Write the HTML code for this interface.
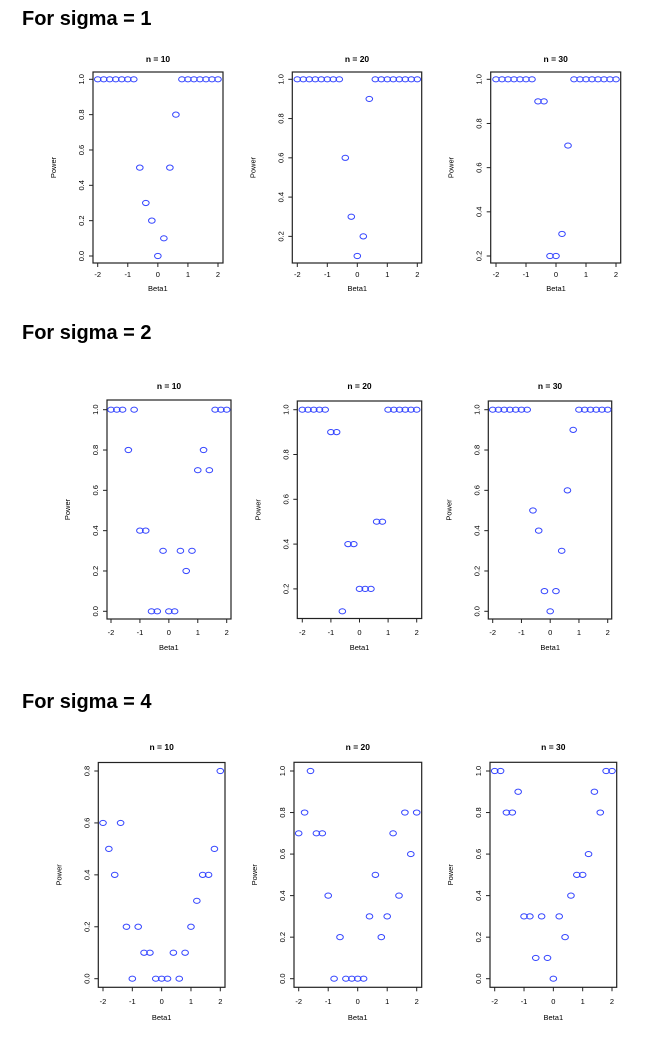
<!DOCTYPE html>
<html><head><meta charset="utf-8"><style>
body{margin:0;background:#fff;width:656px;height:1045px;overflow:hidden}
h2{position:absolute;left:22px;margin:0;font:bold 20px "Liberation Sans",sans-serif;color:#000}
svg{position:absolute;left:0;top:0}
</style></head><body>
<h2 style="top:8px">For sigma = 1</h2>
<h2 style="top:322px">For sigma = 2</h2>
<h2 style="top:691px">For sigma = 4</h2>
<svg id="chart" width="656" height="1045" xmlns="http://www.w3.org/2000/svg"></svg>
<script>
const beta = [-2,-1.8,-1.6,-1.4,-1.2,-1,-0.8,-0.6,-0.4,-0.2,0,0.2,0.4,0.6,0.8,1,1.2,1.4,1.6,1.8,2];
const xTicks = [-2,-1,0,1,2];
const titles = ["n = 10","n = 20","n = 30"];
const s1n10 = [1,1,1,1,1,1,1,0.5,0.3,0.2,0,0.1,0.5,0.8,1,1,1,1,1,1,1];
const s1n20 = [1,1,1,1,1,1,1,1,0.6,0.3,0.1,0.2,0.9,1,1,1,1,1,1,1,1];
const s1n30 = [1,1,1,1,1,1,1,0.9,0.9,0.2,0.2,0.3,0.7,1,1,1,1,1,1,1,1];
const s2n10 = [1,1,1,0.8,1,0.4,0.4,0,0,0.3,0,0,0.3,0.2,0.3,0.7,0.8,0.7,1,1,1];
const s2n20 = [1,1,1,1,1,0.9,0.9,0.1,0.4,0.4,0.2,0.2,0.2,0.5,0.5,1,1,1,1,1,1];
const s2n30 = [1,1,1,1,1,1,1,0.5,0.4,0.1,0,0.1,0.3,0.6,0.9,1,1,1,1,1,1];
const s4n10 = [0.6,0.5,0.4,0.6,0.2,0,0.2,0.1,0.1,0,0,0,0.1,0,0.1,0.2,0.3,0.4,0.4,0.5,0.8];
const s4n20 = [0.7,0.8,1,0.7,0.7,0.4,0,0.2,0,0,0,0,0.3,0.5,0.2,0.3,0.7,0.4,0.8,0.6,0.8];
const s4n30 = [1,1,0.8,0.8,0.9,0.3,0.3,0.1,0.3,0.1,0,0.3,0.2,0.4,0.5,0.5,0.6,0.9,0.8,1,1];

// layout geometry: [boxL, boxR, boxT, boxB, xm2, xp2, yTopPx, yBotPx, yMin, yMax, titleY, tickY, labelY]
const panels = [
 [s1n10,0,0,[93,223,72,263,97.7,218,79.3,256,0,1,59,274,288]],
 [s1n20,0,1,[292.3,421.7,72,263,297.3,417.3,79.3,256,0.1,1,59,274,288]],
 [s1n30,0,2,[490.7,620.7,72,263,496,616,79.3,256,0.2,1,59,274,288]],
 [s2n10,1,0,[107,231,400,619,111,226.7,409.7,611.3,0,1,386,632,647]],
 [s2n20,1,1,[297.3,421.7,401,618.5,302.3,416.7,409.7,611.3,0.1,1,386,632,647]],
 [s2n30,1,2,[488.3,611.7,401,619,492.7,607.7,409.7,611.3,0,1,386,632,647]],
 [s4n10,2,0,[98.3,225,762.5,987.3,103,220.3,771,978.7,0,0.8,747,1001,1017]],
 [s4n20,2,1,[294,421.7,762.3,987.3,298.7,416.7,771,978.7,0,1,747,1001,1017]],
 [s4n30,2,2,[490,616.7,762.3,987.3,494.7,612,771,978.7,0,1,747,1001,1017]]
];
const NS="http://www.w3.org/2000/svg";
const svg=document.getElementById('chart');
function mk(tag,attrs,parent){const e=document.createElementNS(NS,tag);for(const k in attrs)e.setAttribute(k,attrs[k]);(parent||svg).appendChild(e);return e;}
panels.forEach(([vals,r,c,g])=>{
  const [L,R,T,B,x0,x1,yt,yb,ymin,ymax,tY,tickY,labY]=g;
  const sx=v=>x0+(v+2)/4*(x1-x0);
  const sy=v=>yb-(v-ymin)/(ymax-ymin)*(yb-yt);
  const grp=mk('g',{});
  
  
  const box=mk('rect',{x:L,y:T,width:R-L,height:B-T,fill:'none',stroke:'#222','stroke-width':1.2},grp);
  
  
  const t=mk('text',{x:(L+R)/2,y:tY+3,'text-anchor':'middle','font-family':'Liberation Sans, sans-serif','font-size':8.5,'font-weight':'bold'},grp);
  t.textContent=titles[c];
  
  
  xTicks.forEach(v=>{
    const x=sx(v);
    mk('line',{x1:x,x2:x,y1:B,y2:B+4,stroke:'#222','stroke-width':1},grp);
    const tl=mk('text',{x:x,y:tickY+3,'text-anchor':'middle','font-family':'Liberation Sans, sans-serif','font-size':7.5},grp);
    tl.textContent=v;
    
    
  });
  const xl=mk('text',{x:(x0+x1)/2,y:labY+3,'text-anchor':'middle','font-family':'Liberation Sans, sans-serif','font-size':7.5},grp);
  xl.textContent='Beta1';
  
  
  for(let k=Math.ceil(ymin*5-1e-9);k<=Math.floor(ymax*5+1e-9);k++){
    const v=k/5, y=sy(v);
    mk('line',{x1:L-4,x2:L,y1:y,y2:y,stroke:'#222','stroke-width':1},grp);
    const yl=mk('text',{x:0,y:0,'text-anchor':'middle','font-family':'Liberation Sans, sans-serif','font-size':7.5,transform:`translate(${L-9},${y}) rotate(-90)`},grp);
    yl.textContent=v.toFixed(1);
    
    
  }
  const yt2=mk('text',{x:0,y:0,'text-anchor':'middle','font-family':'Liberation Sans, sans-serif','font-size':7.5,transform:`translate(${L-37},${(T+B)/2}) rotate(-90)`},grp);
  yt2.textContent='Power';
  
  
  vals.forEach((v,i)=>{
    const p=mk('ellipse',{cx:sx(beta[i]),cy:sy(v),rx:3.3,ry:2.6,fill:'none',stroke:'#3344ff','stroke-width':1},grp);
    
    
  });
});
</script>
</body></html>
